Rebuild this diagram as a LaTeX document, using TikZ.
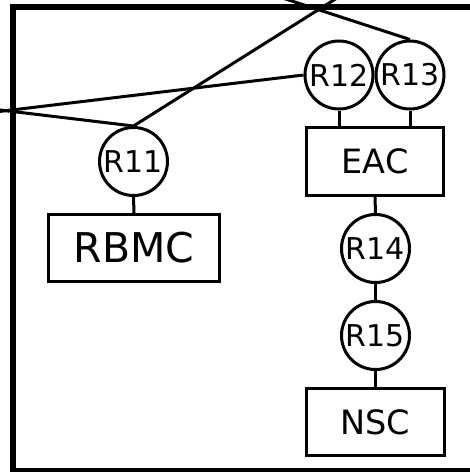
\documentclass[tikz,border=0pt]{standalone}
\usepackage{fontspec}
\setmainfont{DejaVu Sans}
\begin{document}
\begin{tikzpicture}[x=1pt,y=-1pt,
  link/.style={line width=3pt},
  relnode/.style={circle,draw,line width=3pt,minimum size=68pt,inner sep=0pt,font=\fontsize{30}{30}\selectfont},
  unitbox/.style={rectangle,draw,line width=3pt,inner sep=0pt,minimum width=137.5pt,minimum height=67.5pt,font=\fontsize{33.5}{33.5}\selectfont},
  bigbox/.style={unitbox,minimum width=171pt,minimum height=67pt,font=\fontsize{41}{41}\selectfont},
  frameline/.style={line width=6pt}]
\useasboundingbox (0,0) rectangle (470,472);
\clip (0,0) rectangle (470,472);

% enclosing frame
\draw[frameline] (13,7) rectangle (490,471);

% relationship circles and entity boxes
\node[relnode] (R11) at (133.5,161.5) {R11};
\node[bigbox]  (RBMC) at (134,248) {RBMC};
\node[relnode] (R12) at (339,75) {R12};
\node[relnode] (R13) at (410,75) {R13};
\node[unitbox] (EAC) at (375,161.5) {EAC};
\node[relnode] (R14) at (375.5,248.5) {R14};
\node[relnode] (R15) at (375.5,335.5) {R15};
\node[unitbox] (NSC) at (375.5,422) {NSC};

% links leaving the frame
\coordinate (outA) at (-20,113.8);
\coordinate (outB) at (-20,107.6);
\coordinate (outC) at (349.7,-10);
\coordinate (outD) at (258,-10);
\draw[link] (outA) -- (R12.west);
\draw[link] (outB) -- (R11.north);
\draw[link] (outC) -- (R11.north);
\draw[link] (outD) -- (R13.north);

% vertical links
\draw[link] (R11.south) -- (RBMC.north);
\draw[link] (R12.south) -- (R12.south |- EAC.north);
\draw[link] (R13.south) -- (R13.south |- EAC.north);
\draw[link] (EAC.south) -- (R14.north);
\draw[link] (R14.south) -- (R15.north);
\draw[link] (R15.south) -- (NSC.north);
\end{tikzpicture}
\end{document}
